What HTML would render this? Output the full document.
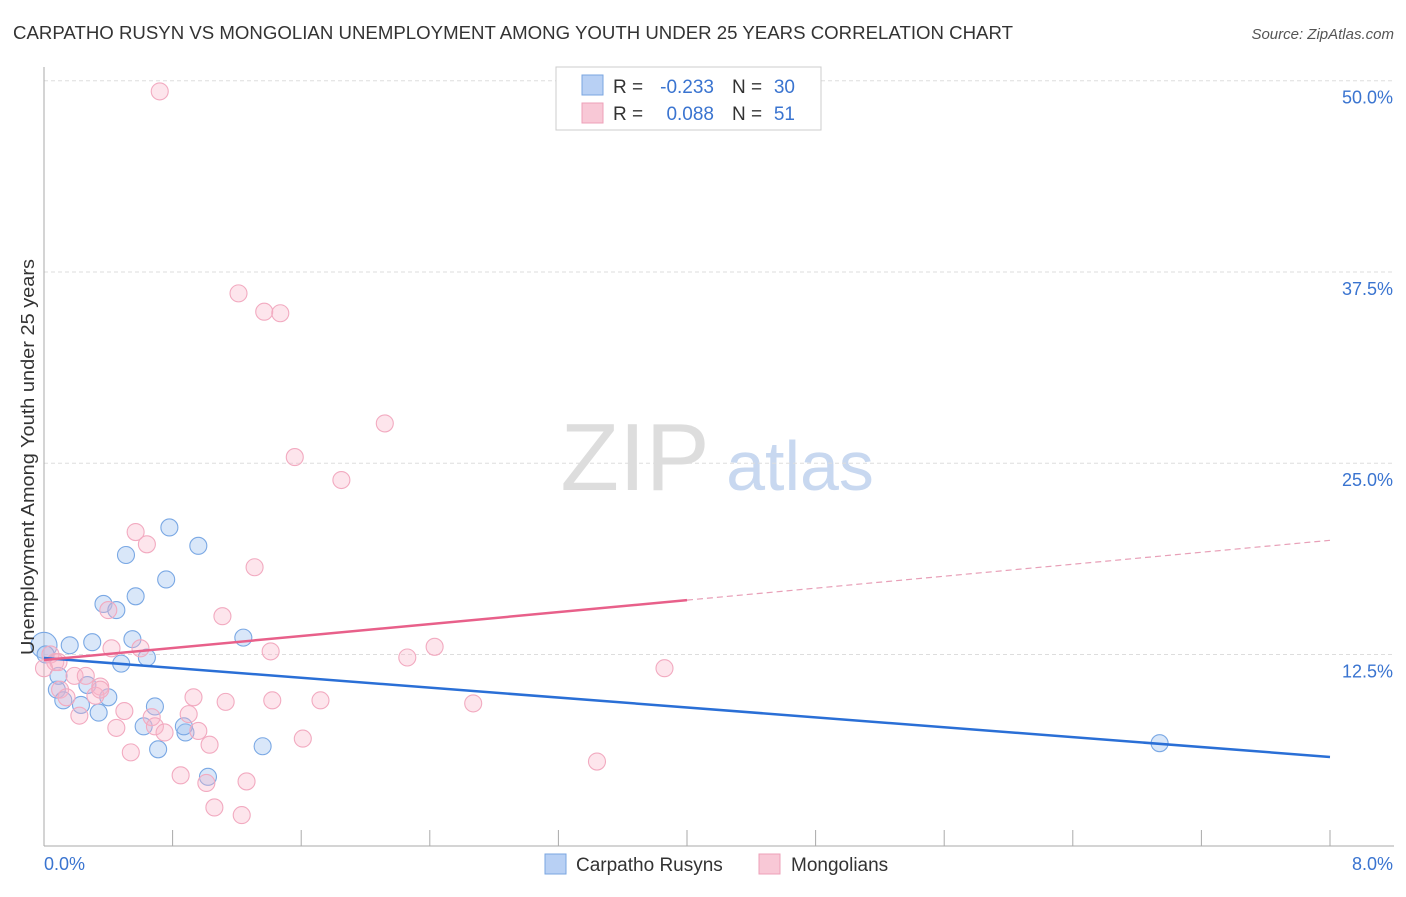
<!DOCTYPE html>
<html><head><meta charset="utf-8"><style>
body{margin:0;background:#fff;font-family:"Liberation Sans",sans-serif;}
svg text{font-family:"Liberation Sans",sans-serif;}
</style></head><body>
<svg id="chart" width="1406" height="892" xmlns="http://www.w3.org/2000/svg">
<text x="13" y="39" font-size="18" fill="#333" textLength="1000" lengthAdjust="spacingAndGlyphs">CARPATHO RUSYN VS MONGOLIAN UNEMPLOYMENT AMONG YOUTH UNDER 25 YEARS CORRELATION CHART</text>
<text x="1394" y="39" font-size="15" fill="#555" text-anchor="end" font-style="italic">Source: ZipAtlas.com</text>
<g>
<text x="635" y="490" font-size="96" fill="#ddd" text-anchor="middle" font-family="Liberation Serif, serif">ZIP</text>
<text x="800" y="490" font-size="70" fill="#c8d8f0" text-anchor="middle">atlas</text>
</g>
<g id="grid"></g>
<g id="axes"></g>
<g id="marks"></g>
<text transform="translate(34,457) rotate(-90)" font-size="18" fill="#333" text-anchor="middle" textLength="396" lengthAdjust="spacingAndGlyphs">Unemployment Among Youth under 25 years</text>
<g>
<rect x="556" y="67" width="265" height="63" fill="#fff" stroke="#ccc"/>
<rect x="582" y="75" width="21" height="20" fill="#b8d0f4" stroke="#7aa6e0"/>
<text x="613" y="93" font-size="19" fill="#333">R =</text>
<text x="714" y="93" font-size="19" fill="#3a74d0" text-anchor="end">-0.233</text>
<text x="732" y="93" font-size="19" fill="#333">N =</text>
<text x="795" y="93" font-size="19" fill="#3a74d0" text-anchor="end">30</text>
<rect x="582" y="103" width="21" height="20" fill="#f8c8d6" stroke="#eea0b8"/>
<text x="613" y="120" font-size="19" fill="#333">R =</text>
<text x="714" y="120" font-size="19" fill="#3a74d0" text-anchor="end">0.088</text>
<text x="732" y="120" font-size="19" fill="#333">N =</text>
<text x="795" y="120" font-size="19" fill="#3a74d0" text-anchor="end">51</text>
</g>
<g>
<rect x="545" y="854" width="21" height="20" fill="#b8d0f4" stroke="#7aa6e0"/>
<text x="576" y="871" font-size="19" fill="#333">Carpatho Rusyns</text>
<rect x="759" y="854" width="21" height="20" fill="#f8c8d6" stroke="#eea0b8"/>
<text x="791" y="871" font-size="19" fill="#333">Mongolians</text>
</g>
</svg>
<script>
const xTicks=[0,0.8,1.6,2.4,3.2,4.0,4.8,5.6,6.4,7.2,8.0];
const yTicks=[12.5,25,37.5,50];
const yTickLabels=["12.5%","25.0%","37.5%","50.0%"];
const blueX=[0.00,0.16,0.30,0.51,0.78,0.96,0.76,0.57,0.37,0.45,0.55,0.64,0.48,1.24,0.08,0.12,0.23,0.27,0.34,0.40,0.69,0.62,0.88,0.71,1.02,1.36,6.94,0.09,0.01,0.87];
const blueY=[13.1,13.1,13.3,19.0,20.8,19.6,17.4,16.3,15.8,15.4,13.5,12.3,11.9,13.6,10.2,9.5,9.2,10.5,8.7,9.7,9.1,7.8,7.4,6.3,4.5,6.5,6.7,11.1,12.5,7.8];
const pinkX=[0.72,1.21,1.37,1.47,2.12,1.56,1.85,0.57,0.64,1.31,1.11,0.40,0.60,1.41,2.26,2.43,3.86,0.42,0.04,0.07,0.10,0.19,0.26,0.35,0.32,0.14,0.22,0.50,0.45,0.54,0.67,0.69,0.75,0.93,0.90,1.13,0.96,1.03,1.42,1.72,1.61,2.67,0.85,1.01,1.06,1.23,1.26,3.44,0.09,0.35,0.0];
const pinkY=[49.3,36.1,34.9,34.8,27.6,25.4,23.9,20.5,19.7,18.2,15.0,15.4,12.9,12.7,12.3,13.0,11.6,12.9,12.5,12.0,10.2,11.1,11.1,10.4,9.8,9.7,8.5,8.8,7.7,6.1,8.4,7.8,7.4,9.7,8.6,9.4,7.5,6.6,9.5,9.5,7.0,9.3,4.6,4.1,2.5,2.0,4.2,5.5,12.0,10.2,11.6];
const blueTrend=[12.27,5.8];
const pinkTrend=[12.14,19.96];
const pinkSolidEnd=4.0;
const X=v=>44+v/8*1286;
const Y=v=>845.7-v*15.3;
const NS="http://www.w3.org/2000/svg";
function mk(tag,attrs,parent){const e=document.createElementNS(NS,tag);for(const k in attrs)e.setAttribute(k,attrs[k]);document.getElementById(parent).appendChild(e);return e;}
yTicks.forEach((t,i)=>{
 const g=mk('line',{x1:44,x2:1394,y1:Y(t),y2:Y(t),stroke:'#ddd','stroke-dasharray':'4,3'},'grid');
 
 
 const l=mk('text',{x:1393,y:Y(t)+23,'font-size':18,fill:'#3a74d0','text-anchor':'end'},'grid');
 l.textContent=yTickLabels[i];
 
 
});
const ax=mk('line',{x1:44,x2:44,y1:67,y2:846,stroke:'#aaa'},'axes');


const bx=mk('line',{x1:44,x2:1394,y1:846,y2:846,stroke:'#aaa'},'axes');


xTicks.forEach(t=>{
 const tk=mk('line',{x1:X(t),x2:X(t),y1:830,y2:846,stroke:'#aaa'},'axes');
 
 
});
const xl0=mk('text',{x:44,y:870,'font-size':18,fill:'#3a74d0'},'axes');xl0.textContent='0.0%';


const xl1=mk('text',{x:1393,y:870,'font-size':18,fill:'#3a74d0','text-anchor':'end'},'axes');xl1.textContent='8.0%';


blueX.forEach((x,i)=>{
 const c=mk('circle',{cx:X(x),cy:Y(blueY[i]),r:i==0?13:8.5,fill:'rgba(160,195,240,0.4)',stroke:'#7aa8e4','stroke-width':1.1},'marks');
 
 
});
pinkX.forEach((x,i)=>{
 const c=mk('circle',{cx:X(x),cy:Y(pinkY[i]),r:8.5,fill:'rgba(248,180,200,0.35)',stroke:'#f2aac0','stroke-width':1.1},'marks');
 
 
});
const pl=v=>pinkTrend[0]+(pinkTrend[1]-pinkTrend[0])*v/8;
const bt=mk('line',{x1:X(0),y1:Y(blueTrend[0]),x2:X(8),y2:Y(blueTrend[1]),stroke:'#2a6fd6','stroke-width':2.5},'marks');


const pt=mk('line',{x1:X(0),y1:Y(pl(0)),x2:X(pinkSolidEnd),y2:Y(pl(pinkSolidEnd)),stroke:'#e8608a','stroke-width':2.5},'marks');


const pd=mk('line',{x1:X(pinkSolidEnd),y1:Y(pl(pinkSolidEnd)),x2:X(8),y2:Y(pl(8)),stroke:'#e8a0b8','stroke-width':1.2,'stroke-dasharray':'6,4'},'marks');


</script>
</body></html>
